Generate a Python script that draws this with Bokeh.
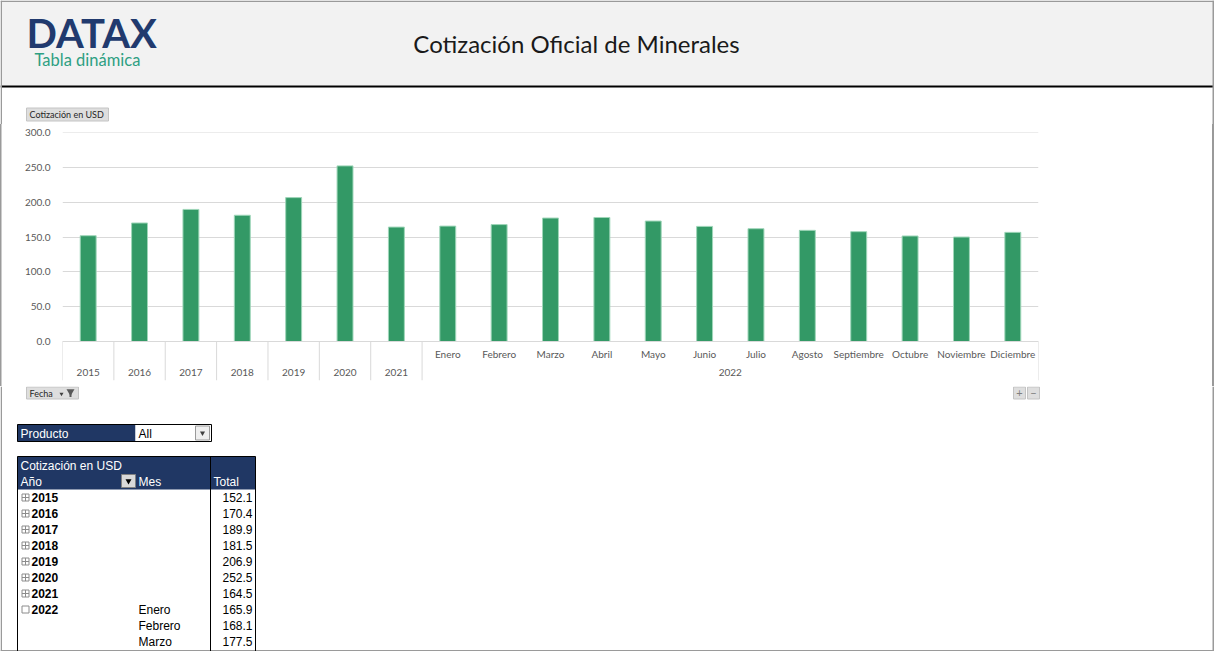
from bokeh.plotting import figure
from bokeh.models import FactorRange, Range1d, NumeralTickFormatter, ColumnDataSource
from bokeh.core.properties import value
from bokeh.embed import file_html
from bokeh.resources import INLINE

# ---------------- data ----------------
years = ["2015", "2016", "2017", "2018", "2019", "2020", "2021"]
year_values = [152.1, 170.4, 189.9, 181.5, 206.9, 252.5, 164.5]
month_year = "2022"
months = ["Enero", "Febrero", "Marzo", "Abril", "Mayo", "Junio", "Julio",
          "Agosto", "Septiembre", "Octubre", "Noviembre", "Diciembre"]
month_values = [165.9, 168.1, 177.5, 178.3, 173.2, 165.5, 162.2,
                159.8, 157.9, 151.7, 150.2, 156.9]
y_ticks = [0, 50, 100, 150, 200, 250, 300]

title_text = "Cotización Oficial de Minerales"
measure_name = "Cotización en USD"

W, H = 1214, 651
NAVY = "#203764"
GREEN = "#339966"
GREY_TXT = "#595959"
FONT = "Lato"
TFONT = "Liberation Sans"
BORDER = "#9a9a9a"


def deco_fig(top, bottom):
    f = figure(width=W, height=bottom - top, x_range=Range1d(0, W), y_range=Range1d(bottom, top),
               toolbar_location=None, output_backend="svg", min_border=0,
               x_axis_location=None, y_axis_location=None)
    f.grid.visible = False
    f.outline_line_color = None
    return f


def btn(f, l, r, t, b, txt, tx, align="left", color="#262626", size="9px"):
    f.quad(left=[l], right=[r], top=[t], bottom=[b], fill_color="#dedede", line_color="#c4c4c4")
    f.text(x=[tx], y=[(t + b) / 2], text=[txt], text_font=value(FONT), text_font_size=size,
           text_color=color, text_align=align, text_baseline="middle")


# ---------------- header (page y 0..124) ----------------
HB = 124
hdr = deco_fig(0, HB)
hdr.quad(left=[0], right=[W], top=[0], bottom=[85], fill_color="#f2f2f2", line_color=None)
hdr.quad(left=[0], right=[W], top=[85], bottom=[87], fill_color="#000000", line_color=None)
hdr.quad(left=[0, W - 2, 0], right=[1.5, W, W], top=[0, 0, 0], bottom=[HB, HB, 1.5],
         fill_color=BORDER, line_color=None)
hdr.text(x=[26], y=[32], text=["DATAX"], text_font=value(FONT), text_font_style="bold",
         text_font_size="40px", text_color="#213a6e", text_baseline="middle")
hdr.text(x=[34], y=[59], text=["Tabla dinámica"], text_font=value(FONT),
         text_font_size="16.5px", text_color="#2e9f82", text_baseline="middle")
hdr.text(x=[576], y=[43], text=[title_text], text_font=value(FONT),
         text_font_size="24px", text_color="#1a1a1a", text_align="center",
         text_baseline="middle")
btn(hdr, 26, 108, 107.5, 120.5, measure_name, 29)

# ---------------- chart (page y 124..386) ----------------
year_f = [(y, "") for y in years]
month_f = [(month_year, m) for m in months]
factors = year_f + month_f
src = ColumnDataSource(dict(x=factors, top=year_values + month_values))

FRAME_H = 248          # frame from page y 132 to 380
AXIS_PX = 39           # axis line 39 px above frame bottom
Y_TOP = 300.5
Y_LOW = -AXIS_PX * Y_TOP / (FRAME_H - AXIS_PX)
PX = (Y_TOP - Y_LOW) / FRAME_H   # data units per pixel

p = figure(width=W, height=262, x_range=FactorRange(factors=factors, range_padding=0,
                                                      group_padding=0, subgroup_padding=0,
                                                      factor_padding=0),
           y_range=Range1d(Y_LOW, Y_TOP), toolbar_location=None, output_backend="svg",
           x_axis_location=None,
           min_border_left=62, min_border_right=176, min_border_top=8, min_border_bottom=6)
p.border_fill_color = None
p.styles = {"box-shadow": "inset 1.5px 0 0 #9a9a9a, inset -2px 0 0 #9a9a9a"}

p.vbar(x="x", top="top", width=0.31, source=src, fill_color=GREEN,
       line_color="#9fd6b9", line_width=1)

# category axis drawn in the frame: baseline, separators and two label rows
first_edge = factors[0] + (-0.5,)
last_edge = factors[-1] + (0.5,)
axis_src = ColumnDataSource(dict(x0=[first_edge], x1=[last_edge]))
p.segment(x0="x0", y0=0, x1="x1", y1=0, source=axis_src, line_color="#d9d9d9", line_width=1)
sep_x = [f + (-0.5,) for f in year_f] + [month_f[0] + (-0.5,), last_edge]
sep_src = ColumnDataSource(dict(x=sep_x))
p.segment(x0="x", y0=0, x1="x", y1=Y_LOW, source=sep_src, line_color="#d9d9d9", line_width=1)

lab_src = ColumnDataSource(dict(x=month_f, text=months))
p.text(x="x", y=-12 * PX, text="text", source=lab_src, text_font=value(FONT),
       text_font_size="10px", text_color=GREY_TXT, text_align="center", text_baseline="middle")
grp_src = ColumnDataSource(dict(x=year_f + [month_f[len(months) // 2 - 1] + (0.5,)],
                                text=years + [month_year]))
p.text(x="x", y=-31 * PX, text="text", source=grp_src, text_font=value(FONT),
       text_font_size="10px", text_color=GREY_TXT, text_align="center", text_baseline="middle")

p.outline_line_color = None
p.xgrid.grid_line_color = None
p.ygrid.grid_line_color = "#d9d9d9"
p.yaxis.ticker = y_ticks
p.yaxis.formatter = NumeralTickFormatter(format="0.0")
p.yaxis.axis_line_color = None
p.yaxis.major_tick_line_color = None
p.yaxis.minor_tick_line_color = None
p.yaxis.major_label_standoff = 6
p.yaxis.major_label_text_font = FONT
p.yaxis.major_label_text_font_size = "10px"
p.yaxis.major_label_text_color = GREY_TXT

# ---------------- pivot table (page y 386..651) ----------------
TT = 386
t = deco_fig(TT, H)
t.quad(left=[0, W - 2, 0], right=[1.5, W, W], top=[TT, TT, H - 1.5], bottom=[H, H, H],
       fill_color=BORDER, line_color=None)
# chart buttons below the axis
btn(t, 26, 78, 386.5, 398.5, "Fecha", 29)
t.scatter(x=[61], y=[393.5], marker="inverted_triangle", size=4, fill_color="#404040", line_color=None)
t.scatter(x=[70], y=[391], marker="inverted_triangle", size=8, fill_color="#595959", line_color=None)
t.quad(left=[69], right=[71], top=[392], bottom=[396.5], fill_color="#595959", line_color=None)
btn(t, 1013, 1025, 386.5, 398.5, "+", 1019, "center", "#7f7f7f", "11px")
btn(t, 1027, 1039, 386.5, 398.5, "−", 1033, "center", "#7f7f7f", "11px")

# Producto filter
t.quad(left=[17], right=[135], top=[424], bottom=[441], fill_color=NAVY, line_color=None)
t.quad(left=[135], right=[211], top=[424], bottom=[441], fill_color="white", line_color=None)
t.quad(left=[17], right=[211], top=[424], bottom=[441], fill_color=None, line_color="black")
t.quad(left=[195], right=[209], top=[425.5], bottom=[439.5], fill_color="#efefef", line_color="#9a9a9a")
t.scatter(x=[202], y=[432.5], marker="inverted_triangle", size=5, fill_color="#404040", line_color=None)
t.text(x=[20], y=[433], text=["Producto"], text_font=value(TFONT), text_font_size="12px",
       text_color="white", text_baseline="middle")
t.text(x=[138], y=[433], text=["All"], text_font=value(TFONT), text_font_size="12px",
       text_color="black", text_baseline="middle")

# table header
t.quad(left=[17], right=[255], top=[456], bottom=[489], fill_color=NAVY, line_color=None)
t.segment(x0=[17, 17, 210, 255], y0=[456, 456, 456, 456], x1=[255, 17, 210, 255],
          y1=[456, 660, 660, 660], line_color="black", line_width=1)
t.text(x=[20, 20, 138, 213], y=[465, 481, 481, 481],
       text=[measure_name, "Año", "Mes", "Total"], text_font=value(TFONT),
       text_font_size="12px", text_color="white", text_baseline="middle")
t.quad(left=[121], right=[135], top=[474], bottom=[487], fill_color="#d9d9d9", line_color="#808080")
t.scatter(x=[128], y=[480.5], marker="inverted_triangle", size=6, fill_color="black", line_color=None)

# table rows
row_h = 16
y0 = 497
yr_rows_y = [y0 + row_h * i for i in range(len(years) + 1)]
yr_labels = years + [month_year]
t.scatter(x=[25] * len(yr_rows_y), y=yr_rows_y,
          marker=["square_cross"] * len(years) + ["square"], size=7,
          fill_color="white", line_color="#8c8c8c")
t.text(x=[31] * len(yr_rows_y), y=yr_rows_y, text=yr_labels, text_font=value(TFONT),
       text_font_size="12px", text_font_style="bold", text_color="black", text_baseline="middle")
m_rows_y = [yr_rows_y[-1] + row_h * j for j in range(3)]
t.text(x=[138] * len(m_rows_y), y=m_rows_y, text=months[:3], text_font=value(TFONT),
       text_font_size="12px", text_color="black", text_baseline="middle")
all_vals = year_values + month_values[:3]
all_y = yr_rows_y[:-1] + m_rows_y
t.text(x=[252] * len(all_vals), y=all_y, text=[f"{v:.1f}" for v in all_vals],
       text_font=value(TFONT), text_font_size="12px", text_color="black",
       text_align="right", text_baseline="middle")

open("out.html", "w").write(file_html([hdr, p, t], INLINE))
